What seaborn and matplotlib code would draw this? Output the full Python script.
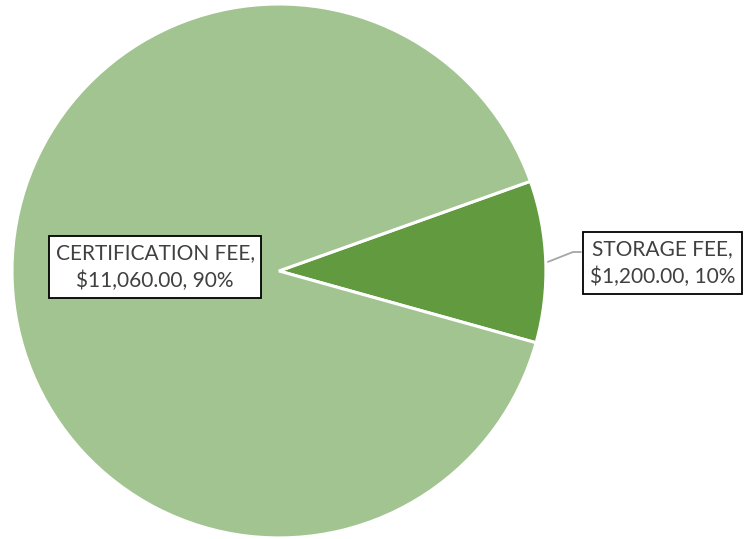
import matplotlib
matplotlib.use("Agg")
import matplotlib.pyplot as plt
import seaborn as sns

# fee breakdown
categories = ["STORAGE FEE", "CERTIFICATION FEE"]
amounts = [1200.00, 11060.00]
percents = ["10%", "90%"]
colors = ["#629A3F", "#A2C490"]

sns.set_style("white")
plt.rcParams['font.family'] = ['Lato', 'DejaVu Sans']

fig = plt.figure(figsize=(7.44, 5.39), dpi=100)
ax = fig.add_axes([0, 0, 1, 1])

wedges, _ = ax.pie(
    amounts,
    colors=colors,
    startangle=-15.6,
    counterclock=True,
    radius=1.0,
    wedgeprops=dict(edgecolor="white", linewidth=2.2),
)
ax.set_aspect("auto")
ax.set_xlim(-1.045, 1.742)
ax.set_ylim(-1.004, 1.015)
ax.axis("off")

def lbl(i):
    return "%s,\n$%s, %s" % (categories[i], format(amounts[i], ",.2f"), percents[i])

box = dict(boxstyle="square,pad=0.32", facecolor="white", edgecolor="black", linewidth=1.3)
ax.text(-0.464, 0.015, lbl(1), ha="center", va="center", fontsize=15,
        color="#404040", bbox=box, linespacing=1.45)
ax.text(1.437, 0.03, lbl(0), ha="center", va="center", fontsize=15,
        color="#404040", bbox=box, linespacing=1.45)

# leader line for the storage label
ax.plot([1.0075, 1.101, 1.131], [0.034, 0.071, 0.071], color="#A6A6A6", linewidth=1.3)

fig.savefig("out.png", dpi=100)
